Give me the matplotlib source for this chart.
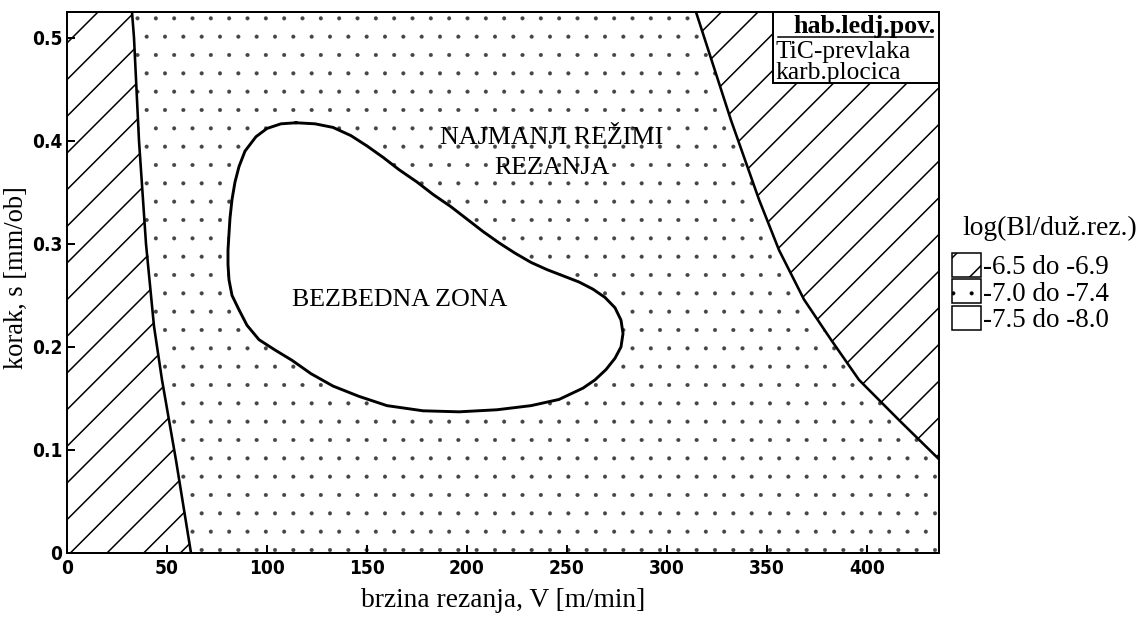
import matplotlib.pyplot as plt
from matplotlib.patches import Patch, Rectangle
from matplotlib.lines import Line2D

SERIF = ['Liberation Serif', 'DejaVu Serif']
DPI = 110
W, H = 1145, 618


def pt(px):
    # velicina fonta zadata u pikselima
    return px * 72 / DPI


X_MAX = 436
Y_MAX = 0.525

# leva granica zone -6.5 do -6.9 (V, s)
left_v = [32.5, 33.5, 36.0, 39.5, 43.5, 47.5, 54.5, 62.0]
left_s = [0.525, 0.50, 0.40, 0.30, 0.22, 0.168, 0.09, 0.0]

# desna granica zone -6.5 do -6.9
right_v = [314.5, 332.0, 346.0, 356.0, 368.5, 382.0, 396.0, 416.0, 436.0]
right_s = [0.525, 0.420, 0.343, 0.294, 0.246, 0.207, 0.168, 0.129, 0.091]

# bezbedna zona (-7.5 do -8.0), zatvorena kriva
safe_v = [114.5, 124, 133, 142, 150, 158, 166, 175, 183, 192, 200, 208, 216,
          224, 232, 240, 248, 256, 263, 269, 274, 277, 278, 277, 274, 269.5,
          264, 258, 246, 232, 215, 196, 178, 160, 146, 133, 122, 112.5, 104,
          96, 90, 86, 82.5, 81, 80.5, 80.5, 81, 81.5, 82.5, 84, 86, 89, 94.5,
          100, 107]
safe_s = [0.4175, 0.4165, 0.413, 0.405, 0.395, 0.384, 0.372, 0.360, 0.348,
          0.336, 0.324, 0.312, 0.301, 0.291, 0.282, 0.275, 0.269, 0.263, 0.256,
          0.248, 0.238, 0.226, 0.213, 0.200, 0.189, 0.178, 0.168, 0.160,
          0.149, 0.143, 0.139, 0.137, 0.138, 0.143, 0.152, 0.162, 0.174,
          0.187, 0.197, 0.207, 0.221, 0.236, 0.250, 0.265, 0.280, 0.294,
          0.310, 0.325, 0.343, 0.360, 0.375, 0.390, 0.404, 0.412, 0.4165]

x_ticks = [0, 50, 100, 150, 200, 250, 300, 350, 400]
y_ticks = [0, 0.1, 0.2, 0.3, 0.4, 0.5]
y_tick_labels = ['0', '0.1', '0.2', '0.3', '0.4', '0.5']

legend_title = 'log(Bl/duž.rez.)'
legend_labels = ['-6.5 do -6.9', '-7.0 do -7.4', '-7.5 do -8.0']
legend_hatches = ['/', '.', '']
legend_hatch_lw = [1.0, 0.2, 1.0]

fig = plt.figure(figsize=(W / DPI, H / DPI), dpi=DPI)
ax = fig.add_axes([67 / W, 65 / H, 872 / W, 541 / H])
ax.set_xlim(0, X_MAX)
ax.set_ylim(0, Y_MAX)
ax.set_axisbelow(False)


def hatch_lw(patch, lw):
    if hasattr(patch, 'set_hatch_linewidth'):
        patch.set_hatch_linewidth(lw)


# srednja zona (tackasta) preko cele povrsine
with plt.rc_context({'hatch.linewidth': 0.2}):
    dots = Rectangle((0, 0), 1, 1, transform=ax.transAxes, facecolor='white',
                     edgecolor='#444444', linewidth=0, hatch='.', zorder=0.5)
    hatch_lw(dots, 0.2)
    ax.add_patch(dots)

plt.rcParams['hatch.linewidth'] = 1.0
# leva i desna zona sa kosim srafurama
for pc in (ax.fill_betweenx(left_s, 0, left_v, facecolor='white',
                            edgecolor='black', linewidth=0, hatch='/', zorder=1),
           ax.fill_betweenx(right_s, right_v, X_MAX, facecolor='white',
                            edgecolor='black', linewidth=0, hatch='/', zorder=1)):
    hatch_lw(pc, 1.0)
ax.plot(left_v, left_s, color='black', lw=1.7, zorder=2, solid_capstyle='butt')
ax.plot(right_v, right_s, color='black', lw=1.7, zorder=2, solid_capstyle='butt')

# bezbedna zona
ax.fill(safe_v, safe_s, facecolor='white', edgecolor='none', zorder=1.5)
ax.plot(safe_v + safe_v[:1], safe_s + safe_s[:1], color='black', lw=1.9,
        zorder=2, solid_joinstyle='round')

ax.text(242.5, 0.388, 'NAJMANJI REŽIMI\nREZANJA', ha='center', va='center',
        family=SERIF, fontsize=pt(26), linespacing=1.45, zorder=3)
ax.text(166.5, 0.2456, 'BEZBEDNA ZONA', ha='center', va='center',
        family=SERIF, fontsize=pt(26), zorder=3)

# okvir sa oznakom materijala
ax.add_patch(Rectangle((0.81, 0.869), 0.19, 0.131, transform=ax.transAxes,
                       facecolor='white', edgecolor='black', lw=1.3, zorder=4))
ax.add_line(Line2D([0.815, 0.993], [0.953, 0.953], transform=ax.transAxes,
                   color='black', lw=1.0, zorder=5))
ax.text(0.996, 0.974, 'hab.ledj.pov.', transform=ax.transAxes, ha='right',
        va='center', family=SERIF, fontsize=pt(26), fontweight='bold', zorder=5)
ax.text(0.812, 0.926, 'TiC-prevlaka', transform=ax.transAxes, ha='left',
        va='center', family=SERIF, fontsize=pt(25.5), zorder=5)
ax.text(0.812, 0.887, 'karb.plocica', transform=ax.transAxes, ha='left',
        va='center', family=SERIF, fontsize=pt(25.5), zorder=5)

ax.set_xticks(x_ticks)
ax.set_yticks(y_ticks)
ax.set_yticklabels(y_tick_labels)
ax.tick_params(direction='in', length=5, width=1.3, top=False, right=False,
               labelsize=pt(19), pad=4)
ax.tick_params(axis='y', pad=3)
for lab in ax.get_xticklabels() + ax.get_yticklabels():
    lab.set_family('DejaVu Sans')
    lab.set_fontstretch('condensed')
    lab.set_fontweight('bold')
for sp in ax.spines.values():
    sp.set_linewidth(1.3)
    sp.set_zorder(6)

ax.set_xlabel('brzina rezanja, V [m/min]', family=SERIF, fontsize=pt(27.5),
              va='center', ha='center')
ax.xaxis.set_label_coords(0.50, -0.087)
ax.set_ylabel('korak, s [mm/ob]', family=SERIF, fontsize=pt(26.5),
              va='center', ha='center')
ax.yaxis.set_label_coords(-0.058, 0.51)

# legenda
fig.text(962 / W, 1 - 228 / H, legend_title, ha='left', va='center',
         family=SERIF, fontsize=pt(27.5))
handles = [Patch(facecolor='white', edgecolor='black', hatch=h, lw=1.0)
           for h in legend_hatches]
leg = fig.legend(handles, legend_labels, loc='upper left',
                 bbox_to_anchor=(952 / W, 1 - 253 / H), frameon=False,
                 prop={'family': SERIF, 'size': pt(27)},
                 handlelength=1.08, handleheight=1.0,
                 handletextpad=0.08, labelspacing=-0.04, borderpad=0,
                 borderaxespad=0)
for hd, lw in zip(leg.legend_handles, legend_hatch_lw):
    hatch_lw(hd, lw)

fig.savefig('out.png', dpi=DPI)
